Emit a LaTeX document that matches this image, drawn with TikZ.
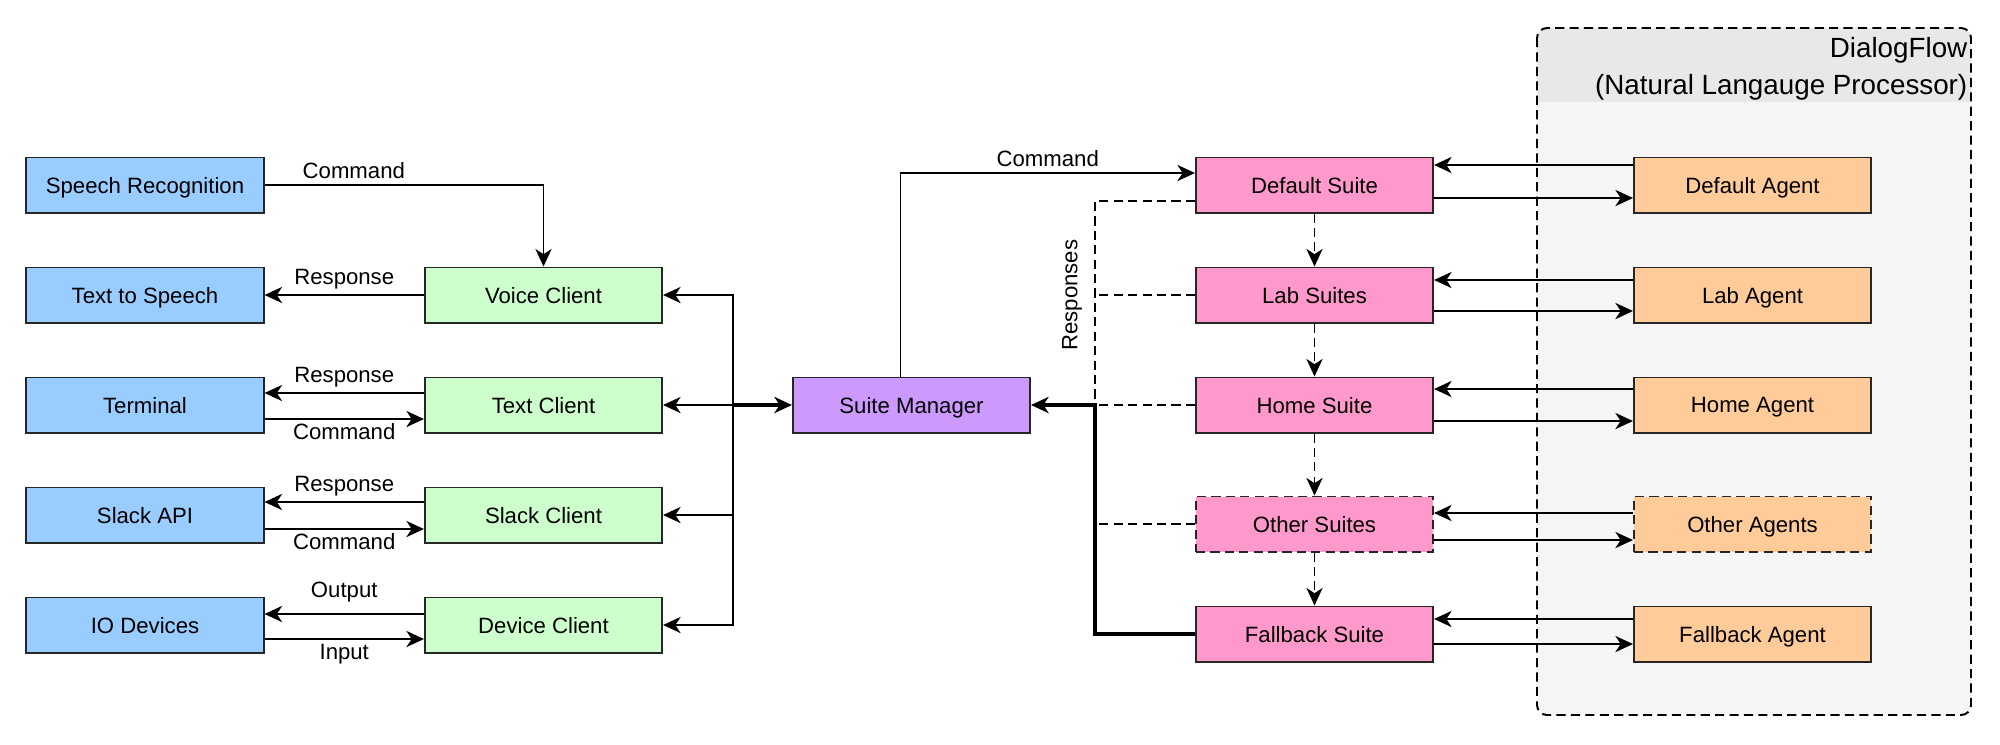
\documentclass[tikz,border=0pt]{standalone}
\usepackage{fontspec}
\setmainfont{Liberation Sans}
\usetikzlibrary{arrows.meta}

\definecolor{srcblue}{HTML}{99CCFF}
\definecolor{cligreen}{HTML}{CCFFCC}
\definecolor{mgrpurple}{HTML}{CC99FF}
\definecolor{suitepink}{HTML}{FF99CC}
\definecolor{agentorange}{HTML}{FFCC99}
\definecolor{dfbody}{HTML}{F5F5F5}
\definecolor{dfhead}{HTML}{E8E8E8}

\tikzset{
  box/.style={draw=black!85, line width=0.55pt, minimum width=2.37cm, minimum height=0.55cm, inner sep=0pt, text depth=0pt},
  src/.style={box, fill=srcblue},
  cli/.style={box, fill=cligreen},
  mgr/.style={box, fill=mgrpurple},
  suite/.style={box, fill=suitepink},
  agent/.style={box, fill=agentorange},
  dashline/.style={dash pattern=on 2.6pt off 1.5pt},
  link/.style={draw, line width=0.55pt, -{Stealth[length=5pt,width=4.6pt,inset=1.5pt]}},
  plain/.style={draw, line width=0.55pt},
  tagup/.style={above, inner sep=1.5pt},
  tagdown/.style={below, inner sep=1.1pt},
}

\begin{document}
\begin{tikzpicture}[x=0.01cm, y=-0.01cm, every node/.style={font=\fontsize{6.3}{7.5}\selectfont}]
\useasboundingbox (0,0) rectangle (2000,744);

\begin{scope}
\clip[rounded corners=1mm] (1537,28) rectangle (1971,715);
\fill[dfbody] (1537,28) rectangle (1971,715);
\fill[dfhead] (1537,28) rectangle (1971,102);
\end{scope}
\draw[dashline, line width=0.55pt, rounded corners=1mm] (1537,28) rectangle (1971,715);
\node[anchor=east, align=right, inner sep=0pt, font=\fontsize{7.9}{10.5}\selectfont] (df) at (1968,69) {DialogFlow\\(Natural Langauge Processor)};

\node[src] (sr) at (145,185) {Speech Recognition};
\node[src] (tts) at (145,295) {Text to Speech};
\node[src] (term) at (145,405) {Terminal};
\node[src] (slack) at (145,515) {Slack API};
\node[src] (io) at (145,625) {IO Devices};

\node[cli] (vc) at (543.5,295) {Voice Client};
\node[cli] (tc) at (543.5,405) {Text Client};
\node[cli] (sc) at (543.5,515) {Slack Client};
\node[cli] (dc) at (543.5,625) {Device Client};

\node[mgr] (sm) at (911.5,405) {Suite Manager};

\node[suite] (ds) at (1314.5,185) {Default Suite};
\node[suite] (ls) at (1314.5,295) {Lab Suites};
\node[suite] (hs) at (1314.5,405) {Home Suite};
\node[suite, dashline] (os) at (1314.5,524) {Other Suites};
\node[suite] (fs) at (1314.5,634) {Fallback Suite};

\node[agent] (da) at (1752.5,185) {Default Agent};
\node[agent] (la) at (1752.5,295) {Lab Agent};
\node[agent] (ha) at (1752.5,405) {Home Agent};
\node[agent, dashline] (oa) at (1752.5,524) {Other Agents};
\node[agent] (fa) at (1752.5,634) {Fallback Agent};

\coordinate (bus) at (733,405);
\coordinate (resp) at (1095,405);

\path[link] (sr) -| (vc) node[tagup, pos=0.16] {Command};
\path[link] (vc) -- (tts) node[tagup, midway] {Response};
\path[link] ([yshift=1.2mm]tc.west) -- ([yshift=1.2mm]term.east) node[tagup, midway] {Response};
\path[link] ([yshift=-1.4mm]term.east) -- ([yshift=-1.4mm]tc.west) node[tagdown, midway] {Command};
\path[link] ([yshift=1.3mm]sc.west) -- ([yshift=1.3mm]slack.east) node[tagup, midway] {Response};
\path[link] ([yshift=-1.4mm]slack.east) -- ([yshift=-1.4mm]sc.west) node[tagdown, midway] {Command};
\path[link] ([yshift=1.1mm]dc.west) -- ([yshift=1.1mm]io.east) node[tagup, inner sep=3.2pt, midway] {Output};
\path[link] ([yshift=-1.4mm]io.east) -- ([yshift=-1.4mm]dc.west) node[tagdown, midway] {Input};

\path[plain] (vc.east -| bus) -- (dc.east -| bus);
\path[link] (bus) |- (vc);
\path[link] (bus) -- (tc);
\path[link] (bus) |- (sc);
\path[link] (bus) |- (dc);
\path[link, line width=1pt] (bus) -- (sm);

\path[link] ([xshift=-1.1mm]sm.north) |- ([yshift=1.2mm]ds.west) node[tagup, pos=0.75] {Command};

\path[plain, dashline] ([yshift=-1.6mm]ds.west) -| (resp);
\path[plain, dashline] (ls) -- (ls -| resp);
\path[plain, dashline] (hs) -- (resp);
\path[plain, dashline] (os) -- (os -| resp);
\path[link, line width=1.4pt] (fs) -| (resp) -- (sm);
\node[rotate=90] (rs) at (1072,295) {Responses};

\path[link, dashline] (ds) -- (ls);
\path[link, dashline] (ls) -- (hs);
\path[link, dashline] (hs) -- (os);
\path[link, dashline] (os) -- (fs);

\path[link] ([yshift=2mm]da.west) -- ([yshift=2mm]ds.east);
\path[link] ([yshift=-1.3mm]ds.east) -- ([yshift=-1.3mm]da.west);
\path[link] ([yshift=1.5mm]la.west) -- ([yshift=1.5mm]ls.east);
\path[link] ([yshift=-1.6mm]ls.east) -- ([yshift=-1.6mm]la.west);
\path[link] ([yshift=1.6mm]ha.west) -- ([yshift=1.6mm]hs.east);
\path[link] ([yshift=-1.6mm]hs.east) -- ([yshift=-1.6mm]ha.west);
\path[link] ([yshift=1.1mm]oa.west) -- ([yshift=1.1mm]os.east);
\path[link] ([yshift=-1.6mm]os.east) -- ([yshift=-1.6mm]oa.west);
\path[link] ([yshift=1.5mm]fa.west) -- ([yshift=1.5mm]fs.east);
\path[link] ([yshift=-1mm]fs.east) -- ([yshift=-1mm]fa.west);
\end{tikzpicture}
\end{document}
